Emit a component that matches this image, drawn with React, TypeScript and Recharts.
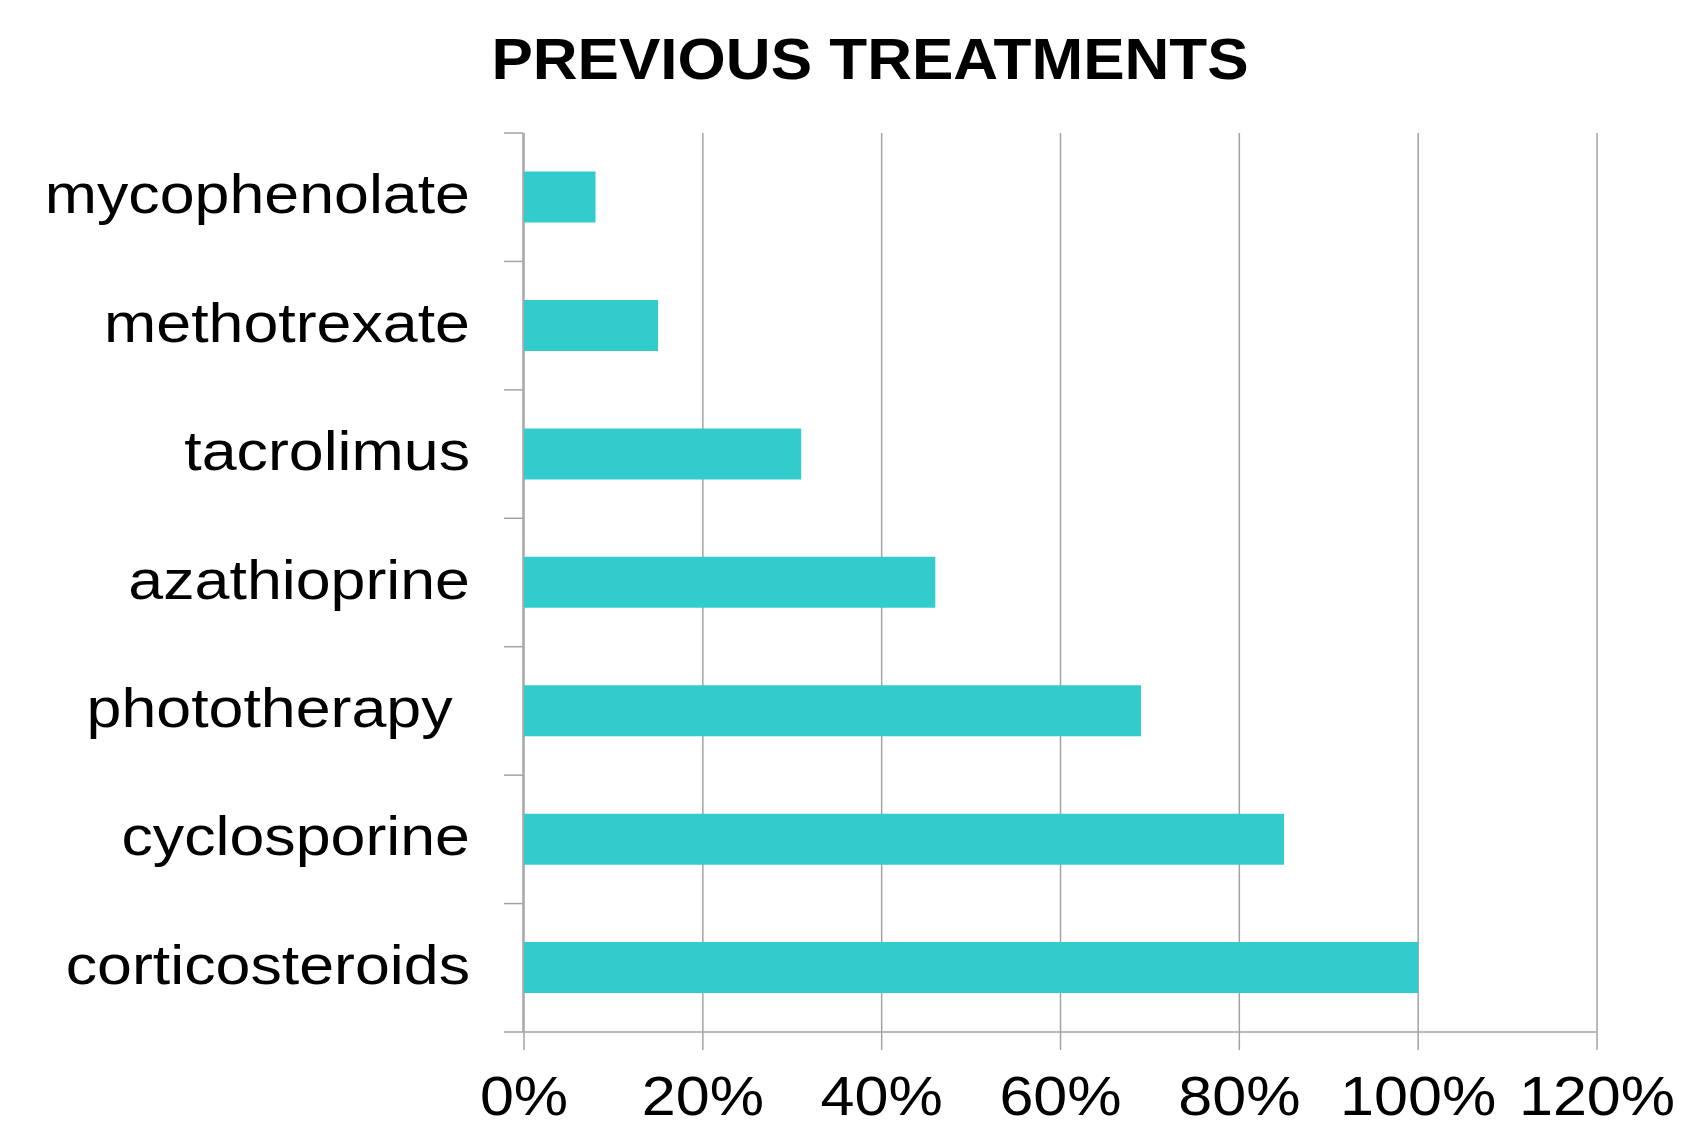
import { BarChart, Bar, XAxis, YAxis, CartesianGrid } from 'recharts';

const treatments = [
  'mycophenolate',
  'methotrexate',
  'tacrolimus',
  'azathioprine',
  'phototherapy ',
  'cyclosporine',
  'corticosteroids',
];
const shares = [0.08, 0.15, 0.31, 0.46, 0.69, 0.85, 1.0];
const percentTicks = [0, 0.2, 0.4, 0.6, 0.8, 1.0, 1.2];
const boundaryTicks = [0, 1, 2, 3, 4, 5, 6, 7];

const title = 'PREVIOUS TREATMENTS';

const FONT = '"Liberation Sans", Arial, sans-serif';
const LINE = '#a3a3a3';
const BAR = '#33cccc';

const data = treatments.map((name, i) => ({ name, share: shares[i] }));

const pct = (v: number) => `${Math.round(v * 100)}%`;

function CategoryTick({ x, y, payload }: any) {
  return (
    <g transform={`translate(${x},${y}) scale(1.12,1)`}>
      <text
        x={0}
        y={0}
        dy={16}
        textAnchor="end"
        fontFamily={FONT}
        fontSize={56}
        fill="#000"
        style={{ whiteSpace: 'pre' }}
      >
        {payload.value}
      </text>
    </g>
  );
}

function PercentTick({ x, y, payload }: any) {
  return (
    <g transform={`translate(${x},${y}) scale(1.11,1)`}>
      <text x={0} y={0} dy={63} textAnchor="middle" fontFamily={FONT} fontSize={55} fill="#000">
        {pct(payload.value)}
      </text>
    </g>
  );
}

export default function App() {
  return (
    <div style={{ position: 'absolute', left: 0, top: 0, width: 1682, height: 1127, background: '#fff' }}>
      <svg width={1682} height={120} style={{ position: 'absolute', left: 0, top: 0 }}>
        <g transform="translate(870,79) scale(1.07,1)">
          <text x={0} y={0} textAnchor="middle" fontFamily={FONT} fontWeight="bold" fontSize={58} fill="#000">
            {title}
          </text>
        </g>
      </svg>
      <BarChart
        width={1682}
        height={1127}
        data={data}
        layout="vertical"
        margin={{ top: 133, right: 85, bottom: 0, left: 522 }}
        barCategoryGap="30%"
      >
        <CartesianGrid horizontal={false} stroke={LINE} strokeWidth={1.5} yAxisId="cat" />
        <XAxis
          type="number"
          domain={[0, 1.2]}
          ticks={percentTicks}
          interval={0}
          height={95}
          tickSize={18}
          tickMargin={2}
          axisLine={{ stroke: LINE, strokeWidth: 1.5 }}
          tickLine={{ stroke: LINE, strokeWidth: 1.5 }}
          tick={<PercentTick />}
        />
        {/* hidden numeric axis: only its tick marks, which fall on the category boundaries */}
        <YAxis
          yAxisId="grid"
          type="number"
          dataKey="share"
          domain={[0, 7]}
          allowDataOverflow
          ticks={boundaryTicks}
          interval={0}
          width={1}
          tickSize={19}
          tick={() => <g />}
          axisLine={{ stroke: LINE, strokeWidth: 1.5 }}
          tickLine={{ stroke: LINE, strokeWidth: 1.5 }}
        />
        <YAxis
          yAxisId="cat"
          type="category"
          dataKey="name"
          width={1}
          interval={0}
          tickSize={19}
          tickMargin={35}
          axisLine={false}
          tickLine={false}
          tick={<CategoryTick />}
        />
        <Bar dataKey="share" yAxisId="cat" fill={BAR} isAnimationActive={false} />
      </BarChart>
    </div>
  );
}
